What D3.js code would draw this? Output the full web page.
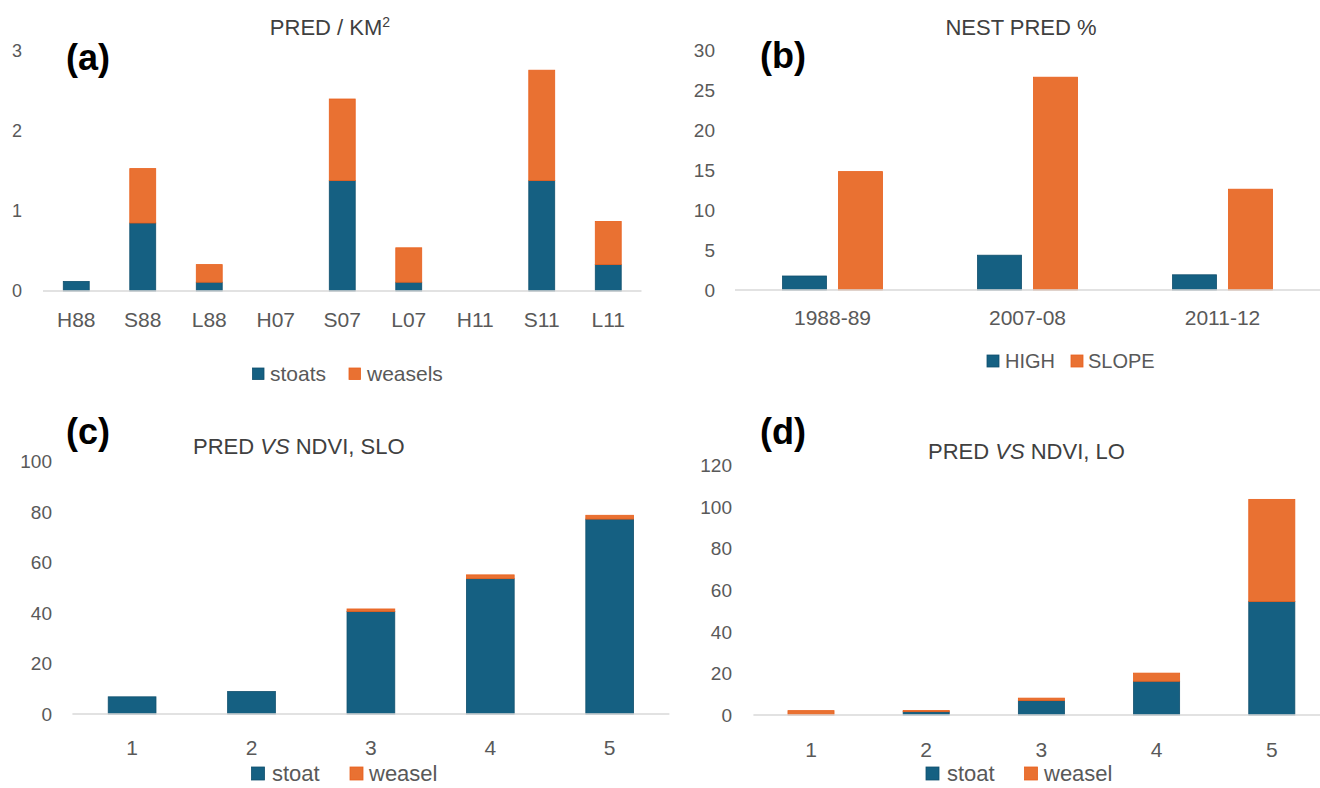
<!DOCTYPE html>
<html><head><meta charset="utf-8">
<script src="https://cdn.jsdelivr.net/npm/d3@7"></script>
<style>
html,body{margin:0;padding:0;background:#fff;}
svg{display:block;}
text{font-family:"Liberation Sans",Arial,sans-serif;}
</style></head>
<body>
<svg id="chart" width="1320" height="788"></svg>
<script>
// ---------- DATA ----------
const catsA = ["H88","S88","L88","H07","S07","L07","H11","S11","L11"];
const stoatsA = [0.12,0.85,0.11,0,1.38,0.11,0,1.38,0.33];
const weaselsA = [0,0.68,0.22,0,1.02,0.43,0,1.38,0.54];
const seriesA = ["stoats","weasels"];
const ticksA = [0,1,2,3];

const catsB = ["1988-89","2007-08","2011-12"];
const highB = [1.75,4.35,1.9];
const slopeB = [14.8,26.6,12.6];
const seriesB = ["HIGH","SLOPE"];
const ticksB = [0,5,10,15,20,25,30];

const catsC = ["1","2","3","4","5"];
const stoatC = [6.8,8.9,40.6,53.6,77.2];
const weaselC = [0,0,1.0,1.5,1.5];
const ticksC = [0,20,40,60,80,100];

const catsD = ["1","2","3","4","5"];
const stoatD = [0,1.6,6.9,16.2,54.5];
const weaselD = [2.1,0.6,1.2,3.9,49.0];
const ticksD = [0,20,40,60,80,100,120];
const seriesCD = ["stoat","weasel"];

// ---------- STYLE ----------
const BLUE = "#156082", ORANGE = "#E97132";
const BLUE_EDGE = "#0f4f6d", ORANGE_EDGE = "#e8601c";
const TICK = "#595959", TITLE = "#404040", AXIS = "#d9d9d9";
const colors = [BLUE, ORANGE], edges = [BLUE_EDGE, ORANGE_EDGE];

const svg = d3.select("#chart");

function yAxisLabels(g, y, ticks, xRight, size, anchor) {
  g.selectAll(null).data(ticks).enter().append("text")
    .attr("x", xRight).attr("y", d => y(d) + size * 0.36)
    .attr("text-anchor", anchor || "end")
    .attr("font-size", size).attr("fill", TICK).text(d => d);
}
function baseline(g, x0, x1, yv) {
  g.append("line").attr("x1", x0).attr("x2", x1).attr("y1", yv).attr("y2", yv)
    .attr("stroke", AXIS).attr("stroke-width", 1.5);
}
function catLabels(g, x, cats, yc, size, family) {
  g.selectAll(null).data(cats).enter().append("text")
    .attr("x", d => x(d) + x.bandwidth() / 2).attr("y", yc + size * 0.36)
    .attr("text-anchor", "middle").attr("font-size", size).attr("fill", TICK)
    .attr("font-family", family || null).text(d => d);
}
function stacked(g, x, y, cats, s1, s2) {
  const rows = cats.map((c, i) => ({cat: c, a: s1[i], b: s2[i]}));
  const st = d3.stack().keys(["a","b"])(rows);
  st.forEach((layer, li) => {
    g.selectAll(null).data(layer.filter(d => d[1] - d[0] > 0)).enter().append("rect")
      .attr("x", d => x(d.data.cat)).attr("width", x.bandwidth())
      .attr("y", d => y(d[1])).attr("height", d => y(d[0]) - y(d[1]))
      .attr("fill", colors[li]).attr("stroke", edges[li]).attr("stroke-width", 0.8);
  });
}
function legend(g, items, xs, yTop, sq, size, family) {
  items.forEach((t, i) => {
    g.append("rect").attr("x", xs[i][0]).attr("y", yTop).attr("width", sq).attr("height", sq)
      .attr("fill", colors[i]).attr("stroke", edges[i]).attr("stroke-width", 0.8);
    g.append("text").attr("x", xs[i][1]).attr("y", yTop + sq / 2 + size * 0.36)
      .attr("font-size", size).attr("fill", TICK).attr("font-family", family || null).text(t);
  });
}
function panelLetter(g, t, x, yb) {
  g.append("text").attr("x", x).attr("y", yb).attr("font-size", 36)
    .attr("font-weight", "bold").attr("fill", "#000").text(t);
}

// ---------- PANEL A ----------
{
  const g = svg.append("g");
  const x = d3.scaleBand().domain(catsA).range([43, 641.5]).paddingInner(0.61).paddingOuter(0.305);
  const y = d3.scaleLinear().domain([0, 3]).range([291, 51]);
  yAxisLabels(g, y, ticksA, 22, 18);
  stacked(g, x, y, catsA, stoatsA, weaselsA);
  baseline(g, 43, 641.5, y(0));
  catLabels(g, x, catsA, 319, 21);
  const t = g.append("text").attr("x", 330).attr("y", 35).attr("text-anchor", "middle")
    .attr("font-size", 22).attr("fill", TITLE);
  t.append("tspan").text("PRED / KM");
  t.append("tspan").attr("font-size", 14).attr("dy", -8).text("2");
  panelLetter(g, "(a)", 66, 70);
  legend(g, seriesA, [[252.5, 270], [349, 367]], 368, 11.5, 21);
}

// ---------- PANEL B ----------
{
  const g = svg.append("g");
  const x0 = d3.scaleBand().domain(catsB).range([735, 1320]).paddingInner(0.487).paddingOuter(0.2435);
  const x1 = d3.scaleBand().domain(seriesB).range([0, x0.bandwidth()]).paddingInner(0.214);
  const y = d3.scaleLinear().domain([0, 30]).range([290, 50]);
  yAxisLabels(g, y, ticksB, 715, 19);
  const vals = [highB, slopeB];
  seriesB.forEach((s, si) => {
    g.selectAll(null).data(catsB).enter().append("rect")
      .attr("x", d => x0(d) + x1(s)).attr("width", x1.bandwidth())
      .attr("y", (d, i) => y(vals[si][i])).attr("height", (d, i) => y(0) - y(vals[si][i]))
      .attr("fill", colors[si]).attr("stroke", edges[si]).attr("stroke-width", 0.8);
  });
  baseline(g, 735, 1320, y(0));
  catLabels(g, x0, catsB, 317, 21);
  g.append("text").attr("x", 1021).attr("y", 35).attr("text-anchor", "middle")
    .attr("font-size", 22).attr("fill", TITLE).text("NEST PRED %");
  panelLetter(g, "(b)", 760, 68);
  legend(g, seriesB, [[987, 1005], [1071, 1088]], 355, 12, 20);
}

// ---------- PANEL C ----------
{
  const g = svg.append("g");
  const x = d3.scaleBand().domain(catsC).range([72.4, 669.4]).paddingInner(0.6).paddingOuter(0.3);
  const y = d3.scaleLinear().domain([0, 100]).range([714, 461.5]);
  yAxisLabels(g, y, ticksC, 52, 19);
  stacked(g, x, y, catsC, stoatC, weaselC);
  baseline(g, 72.4, 669.4, y(0));
  catLabels(g, x, catsC, 747.5, 21, "Open Sans");
  const t = g.append("text").attr("x", 193).attr("y", 454).attr("font-size", 22).attr("fill", TITLE);
  t.append("tspan").text("PRED ");
  t.append("tspan").attr("font-style", "italic").text("VS");
  t.append("tspan").text(" NDVI, SLO");
  panelLetter(g, "(c)", 66, 444);
  legend(g, seriesCD, [[251.5, 272], [350, 369]], 767, 13, 22, "Open Sans");
}

// ---------- PANEL D ----------
{
  const g = svg.append("g");
  const x = d3.scaleBand().domain(catsD).range([753.4, 1329.4]).paddingInner(0.6).paddingOuter(0.3);
  const y = d3.scaleLinear().domain([0, 120]).range([715, 465]);
  yAxisLabels(g, y, ticksD, 732, 19);
  stacked(g, x, y, catsD, stoatD, weaselD);
  baseline(g, 753.4, 1320, y(0));
  catLabels(g, x, catsD, 749, 21, "Open Sans");
  const t = g.append("text").attr("x", 928).attr("y", 459).attr("font-size", 22).attr("fill", TITLE);
  t.append("tspan").text("PRED ");
  t.append("tspan").attr("font-style", "italic").text("VS");
  t.append("tspan").text(" NDVI, LO");
  panelLetter(g, "(d)", 760, 444);
  legend(g, seriesCD, [[926, 947], [1024.5, 1044]], 767, 13, 22, "Open Sans");
}
</script>
</body></html>
